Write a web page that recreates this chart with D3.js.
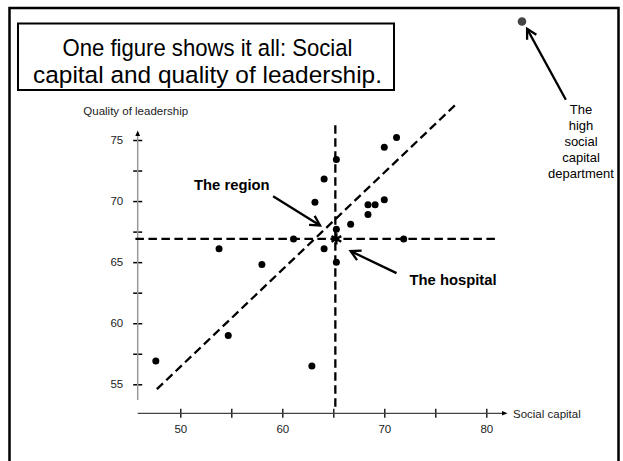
<!DOCTYPE html>
<html><head><meta charset="utf-8">
<script src="https://cdn.jsdelivr.net/npm/d3@7"></script>
<style>
html,body{margin:0;padding:0;background:#fff;}
svg{display:block;font-family:"Liberation Sans",Arial,sans-serif;}
</style></head>
<body>
<svg id="c" width="623" height="461"></svg>
<script>
// ---- data ----
const titleLines = ["One figure shows it all: Social", "capital and quality of leadership."];
const xLabel = "Social capital";
const yLabel = "Quality of leadership";
const xTicks = [50, 55, 60, 65, 70, 75, 80];
const xTickLabels = ["50", "", "60", "", "70", "", "80"];
const yTicks = [55, 57.5, 60, 62.5, 65, 67.5, 70, 72.5, 75];
const yTickLabels = ["55", "", "60", "", "65", "", "70", "", "75"];
// departments: social capital (x), quality of leadership (y)
const deptSocial = [47.6, 54.7, 53.8, 58.0, 61.1, 62.9, 64.1, 63.2, 65.3, 65.3, 64.1, 65.3, 66.7, 68.4, 69.1, 70.0, 68.4, 70.0, 71.2, 71.9];
const deptLeader = [56.9, 59.0, 66.1, 64.8, 66.9, 56.5, 71.8, 69.9, 73.4, 67.7, 66.1, 65.0, 68.1, 69.7, 69.7, 70.1, 68.9, 74.4, 75.2, 66.9];
const hospital = [65.3, 66.9];
const highDept = [83.5, 84.7];
const regionMean = [65.2, 66.9];
const regLine = [[47.7, 54.6], [77.0, 77.9]];
const hLineX = [45.6, 81.1];
const vLineY = [52.9, 76.2];
const annRegion = {text: "The region", from: [59.1, 70.4], to: [63.7, 68.0]};
const annHospital = {text: "The hospital", from: [71.2, 64.1], to: [66.7, 65.9]};
const annHigh = {lines: ["The", "high", "social", "capital", "department"], from: [87.8, 78.3], to: [84.0, 84.1]};

// ---- drawing ----
const svg = d3.select("#c");
const x = d3.scaleLinear().domain([50, 80]).range([180.3, 486.3]);
const y = d3.scaleLinear().domain([55, 75]).range([384.3, 140]);

// outer frame
svg.append("rect").attr("x", 9.5).attr("y", 8).attr("width", 609).attr("height", 470)
  .attr("fill", "none").attr("stroke", "#000").attr("stroke-width", 2.5);

// title box
svg.append("rect").attr("x", 18).attr("y", 23.5).attr("width", 376).attr("height", 66.5)
  .attr("fill", "none").attr("stroke", "#000").attr("stroke-width", 2);
const titleWidths = [290, 349];
svg.selectAll("text.title").data(titleLines).join("text").attr("class", "title")
  .attr("x", 207.5).attr("y", (d, i) => 56 + i * 27).attr("text-anchor", "middle")
  .attr("textLength", (d, i) => titleWidths[i]).attr("lengthAdjust", "spacingAndGlyphs")
  .attr("font-size", 24.3).attr("fill", "#000").text(d => d);

// axes
const yAxis = d3.axisLeft(y).tickValues(yTicks).tickFormat((d, i) => yTickLabels[i]).tickSize(4.5);
const gy = svg.append("g").attr("transform", "translate(137.7,0)").call(yAxis);
gy.select(".domain").remove();
gy.selectAll(".tick line").attr("x1", -4.5).attr("x2", 4.5).attr("stroke", "#000").attr("stroke-width", 1.5);
gy.selectAll(".tick text").attr("x", -14.5).attr("font-size", 11.5).attr("fill", "#222").attr("font-family", "Liberation Sans, Arial, sans-serif");
svg.append("line").attr("x1", 137.7).attr("x2", 137.7).attr("y1", 400).attr("y2", 133)
  .attr("stroke", "#999").attr("stroke-width", 1.5);
svg.append("path").attr("d", "M137.7,130.5 L135.3,136 L140.1,136 Z").attr("fill", "#000");

const xAxis = d3.axisBottom(x).tickValues(xTicks).tickFormat((d, i) => xTickLabels[i]).tickSize(4.5);
const gx = svg.append("g").attr("transform", "translate(0,413.3)").call(xAxis);
gx.select(".domain").remove();
gx.selectAll(".tick line").attr("y1", -4.5).attr("y2", 4.5).attr("stroke", "#000").attr("stroke-width", 1.3);
gx.selectAll(".tick text").attr("y", 20).attr("dy", 0).attr("font-size", 11.5).attr("fill", "#222").attr("font-family", "Liberation Sans, Arial, sans-serif");
svg.append("line").attr("x1", 137.7).attr("x2", 503).attr("y1", 413.3).attr("y2", 413.3)
  .attr("stroke", "#444").attr("stroke-width", 1.2);
svg.append("path").attr("d", "M507.5,413.3 L502,411 L502,415.6 Z").attr("fill", "#000");

svg.append("text").attr("x", 513).attr("y", 417.5).attr("font-size", 11.5).attr("fill", "#222").text(xLabel);
svg.append("text").attr("x", 83.3).attr("y", 115).attr("font-size", 11.5).attr("fill", "#222").text(yLabel);

// dashed reference lines
const dash = "8.5,4.5";
svg.append("line").attr("x1", x(hLineX[0])).attr("x2", x(hLineX[1])).attr("y1", y(regionMean[1])).attr("y2", y(regionMean[1]))
  .attr("stroke", "#000").attr("stroke-width", 2.3).attr("stroke-dasharray", dash);
svg.append("line").attr("x1", x(regionMean[0])).attr("x2", x(regionMean[0])).attr("y1", y(vLineY[1])).attr("y2", y(vLineY[0]))
  .attr("stroke", "#000").attr("stroke-width", 2.3).attr("stroke-dasharray", dash);
svg.append("line").attr("x1", x(regLine[0][0])).attr("y1", y(regLine[0][1])).attr("x2", x(regLine[1][0])).attr("y2", y(regLine[1][1]))
  .attr("stroke", "#000").attr("stroke-width", 2.3).attr("stroke-dasharray", dash);

// points
svg.selectAll("circle.dept").data(deptSocial).join("circle").attr("class", "dept")
  .attr("cx", d => x(d)).attr("cy", (d, i) => y(deptLeader[i])).attr("r", 3.5).attr("fill", "#000");
svg.append("path").attr("d", d3.symbol(d3.symbolAsterisk, 90)())
  .attr("transform", `translate(${x(hospital[0])},${y(hospital[1])})`)
  .attr("stroke", "#000").attr("stroke-width", 2.4).attr("fill", "none");
svg.append("circle").attr("cx", x(highDept[0])).attr("cy", y(highDept[1])).attr("r", 4.3).attr("fill", "#444");

// arrows
function arrow(a) {
  const x1 = x(a.from[0]), y1 = y(a.from[1]), x2 = x(a.to[0]), y2 = y(a.to[1]);
  const ang = Math.atan2(y2 - y1, x2 - x1);
  const L = 11, w = 0.5;
  svg.append("line").attr("x1", x1).attr("y1", y1).attr("x2", x2).attr("y2", y2)
    .attr("stroke", "#000").attr("stroke-width", 2.3);
  const p1 = [x2 - L * Math.cos(ang - w), y2 - L * Math.sin(ang - w)];
  const p2 = [x2 - L * Math.cos(ang + w), y2 - L * Math.sin(ang + w)];
  svg.append("path").attr("d", `M${p1[0]},${p1[1]} L${x2},${y2} L${p2[0]},${p2[1]}`)
    .attr("stroke", "#000").attr("stroke-width", 2.3).attr("fill", "none").attr("stroke-linejoin", "miter");
}
arrow(annRegion); arrow(annHospital); arrow(annHigh);

svg.append("text").attr("x", 194).attr("y", 190).attr("font-size", 14.8).attr("font-weight", "bold").attr("fill", "#000").text(annRegion.text);
svg.append("text").attr("x", 409.5).attr("y", 285).attr("font-size", 14.8).attr("font-weight", "bold").attr("fill", "#000").text(annHospital.text);
svg.selectAll("text.hd").data(annHigh.lines).join("text").attr("class", "hd")
  .attr("x", 581).attr("y", (d, i) => 114 + i * 16).attr("text-anchor", "middle")
  .attr("font-size", 13).attr("fill", "#000").text(d => d);
</script>
</body></html>
